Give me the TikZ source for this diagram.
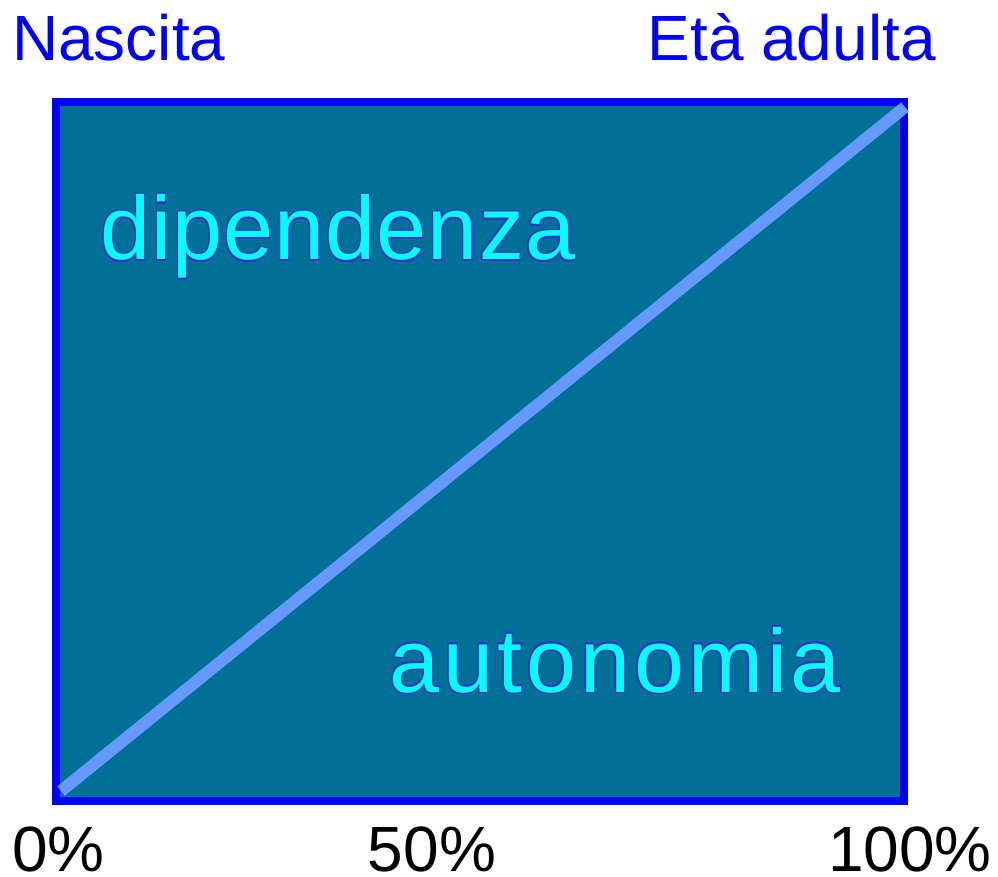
\documentclass[tikz,border=0pt]{standalone}
\usepackage{fontspec}
\setmainfont{Liberation Sans}
\newfontfamily\widefont[LetterSpace=4.4]{Liberation Sans}
\newfontfamily\semiwidefont[LetterSpace=1.2]{Liberation Sans}
\usepackage{xcolor}
\usepackage{contour}
\contourlength{1.2pt}
\usetikzlibrary{positioning}

\definecolor{boxfill}{RGB}{0,112,150}
\definecolor{diagline}{RGB}{102,153,255}
\definecolor{wordout}{RGB}{51,51,204}
\definecolor{wordfill}{RGB}{0,255,255}

\tikzset{
  toplabel/.style={inner sep=0pt, text=blue, font=\fontsize{64}{70}\selectfont},
  scalelabel/.style={inner sep=0pt, text=black, font=\fontsize{64}{70}\selectfont},
  inlabel/.style={inner sep=0pt, font=\fontsize{90}{96}\selectfont}
}

\begin{document}
\begin{tikzpicture}[x=1pt, y=-1pt]
\useasboundingbox (0,0) rectangle (998,877);

% Box
\draw[blue, line width=8pt, fill=boxfill] (56,102) rectangle (904,801);

% Diagonal from birth to adulthood
\coordinate (start) at (61,791);
\coordinate (end) at (905,107);
\draw[diagline, line width=12pt] (start) -- (end);

% Labels above
\node[toplabel, anchor=base west] (birth) at (12,61) {Nascita};
\node[toplabel, anchor=base east] (adult) at (936,61) {Età adulta};

% Labels inside
\node[inlabel, anchor=base west] (dep) at (100,260) {\semiwidefont\contour{wordout}{\textcolor{wordfill}{dipendenza}}};
\node[inlabel, anchor=base west] (aut) at (389,692) {\widefont\contour{wordout}{\textcolor{wordfill}{autonomia}}};

% Scale below
\node[scalelabel, anchor=base west] (p0) at (12,871) {0\%};
\node[scalelabel, anchor=base] (p50) at (432,871) {50\%};
\node[scalelabel, anchor=base east] (p100) at (992,871) {100\%};
\end{tikzpicture}
\end{document}
